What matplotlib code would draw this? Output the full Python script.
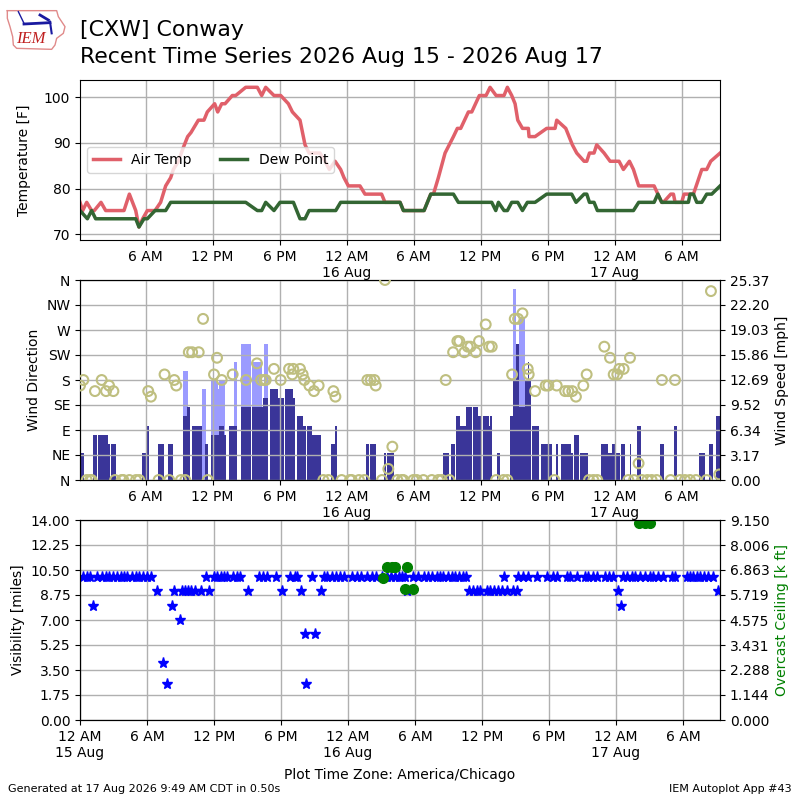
import matplotlib
matplotlib.use("Agg")
import matplotlib.pyplot as plt
import numpy as np

# hours after 15 Aug 00:00 local time
temp_hours = [.13,.37,.73,1.17,1.41,2.01,2.43,4.07,4.55,5.12,5.41,5.74,6.16,6.85,7.35,7.8,8.25,8.49,8.94,9.38,9.77,10.07,10.73,11.23,11.53,12.19,12.46,12.82,13.12,13.77,14.07,14.97,16.01,16.4,16.76,17.5,18.1,18.79,19.15,19.83,20.28,20.64,21.62,22.07,22.46,22.97,23.47,23.77,24.16,25.2,25.65,27.14,27.44,28.79,29.09,30.94,31.54,31.78,32.22,32.82,33.57,33.92,34.22,34.91,35.21,35.89,36.49,36.85,37.39,38.1,38.4,38.79,39.09,39.33,39.75,40.28,40.34,40.88,41.92,42.67,42.82,43.63,44.22,44.61,45.27,45.51,45.75,46.16,46.4,47.06,47.6,48.4,48.79,49.33,49.69,50.16,51.54,52.22,52.37,53.03,53.27,53.42,54.01,54.22,55.06,55.81,56.25,56.61,57.45]
temp_f = [77,75.2,77,75.2,75.2,77,75.2,75.2,78.8,75.2,71.6,73.4,75.2,75.2,77,80.6,82.4,84.2,86,89,91.4,92.3,95,95,96.8,98.6,96.8,98.6,98.6,100.4,100.4,102.2,102.2,100.4,102.2,100.4,100.4,98.6,96.8,95,89.6,87.8,87.8,86,84.2,86,84.2,82.4,80.6,80.6,78.8,78.8,77,77,75.2,75.2,78.8,78.8,82.4,87.8,91.4,93.2,93.2,96.8,96.8,100.4,100.4,102.2,100.4,100.4,102.2,100.4,98.6,95,93.2,93.2,91.4,91.4,93.2,93.2,95,93.2,89.6,87.8,86,86,87.8,87.8,89.6,87.8,86,86,84.2,86,84.2,80.6,80.6,77,77,78.8,78.8,77,77,78.8,78.8,84.2,84.2,86,87.8]
dew_hours = [.13,.79,1.17,1.53,5.12,5.41,5.86,6.16,6.85,7.8,8.25,14.97,16.01,16.4,16.76,17.5,18.04,19.24,19.83,20.28,20.64,23.03,23.47,28.79,29.09,30.94,31.54,33.57,34.01,37,37.36,37.6,38.1,38.4,38.79,39.33,39.75,40.19,40.88,41.92,44.16,44.55,45.27,45.51,45.75,46.16,46.46,49.69,50.16,51.54,51.87,52.22,54.61,54.76,55.06,55.36,55.81,56.25,56.7,57.45]
dew_f = [75.2,73.4,75.2,73.4,73.4,71.6,73.4,73.4,75.2,75.2,77,77,75.2,75.2,77,75.2,77,77,73.4,73.4,75.2,75.2,77,77,75.2,75.2,78.8,78.8,77,77,75.2,77,75.2,75.2,77,77,75.2,77,77,78.8,78.8,77,78.8,78.8,77,77,75.2,75.2,77,77,78.8,77,77,78.8,78.8,77,77,78.8,78.8,80.6]

wind_start = [.13,1.29,1.74,2.64,2.91,5.68,6.01,7.12,8.0,9.35,9.71,10.16,11.32,11.86,12.58,13.03,13.48,14.55,15.53,16.52,17.14,17.86,18.49,19.2,19.56,20.1,20.46,20.91,22.61,22.97,25.74,26.1,27.35,27.62,32.64,33.36,33.81,34.16,34.34,34.7,35.33,35.78,36.22,36.76,36.85,37.48,38.64,38.91,39.18,39.45,39.98,40.25,40.61,41.42,42.76,43.2,44.1,44.36,44.9,46.78,47.41,47.77,48.12,48.57,49.38,50.01,52.07,53.32,55.56,56.45,57.08]
wind_end = [.49,1.65,2.64,2.82,3.35,6.01,6.31,7.65,8.46,9.71,9.98,11.06,11.59,12.58,13.03,13.21,14.19,15.44,16.52,16.97,17.86,18.4,19.2,19.38,20.1,20.37,20.91,21.71,22.97,23.14,26.01,26.64,27.53,28.25,33.18,33.72,34.16,34.34,34.7,35.24,35.78,36.04,36.76,36.85,37.03,37.75,38.91,39.18,39.45,39.98,40.52,40.31,41.24,42.4,42.94,44.1,44.27,44.81,45.62,47.41,47.77,48.12,48.48,48.93,49.47,50.36,52.42,53.59,56.1,56.81,57.44]
wind_kt = [3,5,5,4,4,3,6,4,4,7,8,6,4,5,6,5,6,8,8,9,10,9,10,9,7,6,6,5,4,6,4,4,3,3,3,4,7,6,6,8,8,7,7,6,7,3,7,11,15,8,11,13,6,4,4,4,3,5,3,4,3,4,3,4,4,6,4,6,3,4,7]
gust_start = [9.35,11.06,11.86,12.49,12.58,13.92,14.55,15.53,16.61,38.91,39.45]
gust_end = [9.8,11.42,12.49,12.58,13.12,14.19,15.44,16.43,16.97,39.18,39.98]
gust_kt = [12,10,11,10,11,13,15,13,15,21,18]

dir_hours = [.13,.43,.73,1.03,1.17,1.47,2.07,2.46,2.73,3.12,3.27,3.86,4.01,4.55,5.15,5.44,6.24,6.48,7.17,7.70,8.12,8.57,8.75,9.17,9.56,9.87,10.17,10.76,11.15,11.57,12.13,12.4,12.82,13.8,15,15.98,16.34,16.64,16.76,17.5,18.1,18.85,19.14,19.23,19.83,20.07,20.22,20.67,21.08,21.5,22.82,23,21.92,22.37,23.56,24.31,24.46,25.11,25.59,25.86,26.16,26.49,26.61,27.17,27.44,28.1,27.74,28.55,28.94,29.09,29.98,30.28,30.88,31.63,32.22,32.52,33.21,32.88,33.54,33.92,34.1,34.55,34.85,35.09,35.57,35.86,36.46,36.76,37,37.39,38.04,38.4,38.82,39.06,39.36,39.75,40.22,40.31,40.88,41.83,42.07,42.82,42.61,43.57,43.86,44.21,44.54,45.2,45.5,45.71,46.1,46.45,47.08,47.59,47.92,48.24,48.42,48.81,49.38,49.23,49.74,50.15,50.45,50.93,51.32,51.77,52.24,53.02,53.41,53.86,54.3,54.75,55.29,56.24,56.63,57.38]
dir_deg = [170,180,0,0,0,160,180,160,170,160,0,0,0,0,0,0,160,150,0,190,0,180,170,0,0,230,230,230,290,0,190,220,180,190,180,210,180,180,180,200,180,200,190,200,200,190,180,170,160,170,160,150,0,0,0,0,0,0,0,180,180,180,170,0,360,60,20,0,0,0,0,0,0,0,0,0,0,180,230,250,250,230,240,240,230,250,280,240,240,0,0,0,190,290,290,300,200,190,160,170,170,170,0,160,160,160,150,170,190,0,0,0,240,220,190,190,200,200,220,0,0,30,0,0,0,0,180,0,180,0,0,0,0,0,340,10]

vis_10_hours = [.24,.6,.9,1.55,1.94,2.33,2.63,2.93,3.28,3.64,3.94,4.24,4.63,5.01,5.31,5.61,5.97,6.33,11.28,12,12.3,12.6,12.9,13.19,13.73,14.03,14.33,16.06,16.36,16.78,17.52,18.81,19.25,19.46,20.75,21.85,22.15,22.54,22.9,23.28,23.64,24.33,24.78,25.13,25.67,26.12,26.51,27.01,27.46,27.82,28.21,28.6,28.81,29.11,29.85,30.3,30.81,31.2,31.56,31.94,32.24,32.54,32.99,33.29,33.59,33.97,34.27,34.57,38,39.26,39.7,40.15,40.9,41.79,42.33,42.69,43.59,43.88,44.48,45.23,45.53,45.97,46.27,47.02,47.41,47.76,48.6,48.96,49.41,49.7,50.15,50.6,51.05,51.35,51.79,52.24,52.99,53.29,54.33,54.63,54.93,55.23,55.53,55.88,56.27,56.66]
vis_9_hours = [6.93,8.45,9.1,9.4,9.7,9.91,10.3,10.84,11.55,15.01,18.12,19.82,21.55,29.26,34.87,35.23,35.59,35.82,36.42,36.72,37.08,37.47,37.76,38.27,38.75,39.11,48.21,57.17]
vis_low_hours = [1.19,8.27,48.42,8.99,20.12,21.07,7.46,7.82,20.27]
vis_low_miles = [8,8,8,7,6,6,4,2.5,2.5]

ceil_hours = [27.16,27.46,27.91,28.21,29.32,29.11,29.85,50.09,50.6,51.05]
ceil_kft = [6.5,7,7,7,7,6,6,9,9,9]

hour_ticks = [6,12,18,24,30,36,42,48,54]
hour_labels = ['6 AM','12 PM','6 PM','12 AM\n16 Aug','6 AM','12 PM','6 PM','12 AM\n17 Aug','6 AM']
dir_ticks = [0,45,90,135,180,225,270,315,360]
dir_labels = ['N','NE','E','SE','S','SW','W','NW','N']
speed_ticks = [0,3.17,6.34,9.52,12.69,15.86,19.03,22.20,25.37]
vis_ticks = [0,1.75,3.5,5.25,7,8.75,10.5,12.25,14]
ceil_ticks = [0,1.144,2.288,3.431,4.575,5.719,6.863,8.006,9.150]
KT2MPH = 1.15078

GRID = '#b0b0b0'
fig = plt.figure(figsize=(8, 8), dpi=100)

# temperature
ax1 = fig.add_axes([.1, .7, .8, .2])
ax1.plot(temp_hours, temp_f, color='#e0606a', lw=2.5, label='Air Temp')
ax1.plot(dew_hours, dew_f, color='#336633', lw=2.5, label='Dew Point')
ax1.set_xlim(.13, 57.44)
ax1.set_ylim(68.75, 103.8)
ax1.set_yticks([70, 80, 90, 100])
ax1.set_ylabel('Temperature [F]', labelpad=9)
ax1.set_xticks(hour_ticks, hour_labels)
ax1.grid(True, color=GRID, lw=1.0)
ax1.legend(loc='center left', bbox_to_anchor=(0, .5), ncol=2, fontsize=10)

# wind
ax2 = fig.add_axes([.1, .4, .8, .25])
ax2b = ax2.twinx()
ax2.set_zorder(ax2b.get_zorder() + 1)
ax2.patch.set_visible(False)
ax2b.patch.set_visible(True)
gs, ge = np.array(gust_start), np.array(gust_end)
ws, we = np.array(wind_start), np.array(wind_end)
ax2b.bar(gs, np.array(gust_kt) * KT2MPH, width=ge - gs, align='edge', color='#9b9bff', lw=0)
ax2b.bar(ws, np.array(wind_kt) * KT2MPH, width=we - ws, align='edge', color='#3a3599', lw=0)
ax2b.set_ylim(0, 25.37)
ax2b.set_yticks(speed_ticks, [f'{v:.2f}' for v in speed_ticks])
ax2b.set_ylabel('Wind Speed [mph]')
ax2.scatter(dir_hours, dir_deg, s=50, facecolors='none', edgecolors='#bfbf80', linewidths=1.5, zorder=3)
ax2.set_ylim(0, 360)
ax2.set_yticks(dir_ticks, dir_labels)
ax2.set_ylabel('Wind Direction')
ax2.set_xlim(.13, 57.44)
ax2.set_xticks(hour_ticks, hour_labels)
ax2.grid(True, color=GRID, lw=1.0)

# visibility and ceiling
ax3 = fig.add_axes([.1, .1, .8, .25])
ax3b = ax3.twinx()
ax3.plot(vis_10_hours, [10] * len(vis_10_hours), '*', color='blue', ms=8, ls='none')
ax3.plot(vis_9_hours, [9] * len(vis_9_hours), '*', color='blue', ms=8, ls='none')
ax3.plot(vis_low_hours, vis_low_miles, '*', color='blue', ms=8, ls='none')
ax3b.plot(ceil_hours, ceil_kft, 'o', color='green', ms=7, ls='none')
ax3.set_xlim(0, 57.31)
ax3.set_ylim(0, 14)
ax3.set_yticks(vis_ticks, [f'{v:.2f}' for v in vis_ticks])
ax3.set_ylabel('Visibility [miles]')
ax3b.set_ylim(0, 9.15)
ax3b.set_yticks(ceil_ticks, [f'{v:.3f}' for v in ceil_ticks])
ax3b.set_ylabel('Overcast Ceiling [k ft]', color='green')
ax3.set_xticks([0] + hour_ticks, ['12 AM\n15 Aug'] + hour_labels)
ax3.grid(True, color=GRID, lw=1.0)

# heading and footer
fig.text(.1, 1 - 30 / 800, '[CXW] Conway', fontsize=15.8, va='center', ha='left')
fig.text(.1, 1 - 57 / 800, 'Recent Time Series 2026 Aug 15 - 2026 Aug 17', fontsize=15.8, va='center', ha='left')
fig.text(.5, 1 - 775 / 800, 'Plot Time Zone: America/Chicago', fontsize=10, va='center', ha='center')
fig.text(.01, .0075, 'Generated at 17 Aug 2026 9:49 AM CDT in 0.50s', fontsize=8, va='bottom')
fig.text(.99, .0075, 'IEM Autoplot App #43', fontsize=8, va='bottom', ha='right')

# logo
logo = fig.add_axes([0, 1 - 60 / 800, 80 / 800, 60 / 800])
logo.axis('off')
logo.set_xlim(0, 240)
logo.set_ylim(180, 0)
logo.plot([22,170,175,195,190,170,165,155,50,40,38,30,22,22], [32,32,50,80,100,115,135,148,145,135,110,80,55,32], color='#e08a8a', lw=1)
logo.plot([72,150], [72,68], color='#1a1aa0', lw=2)
logo.plot([55,72], [35,70], color='#1a1aa0', lw=1)
logo.plot([120,145], [45,60], color='#1a1aa0', lw=2)
logo.plot([150,155], [65,100], color='#1a1aa0', lw=1.5)
logo.text(92, 118, 'IEM', color='#c02020', fontsize=12, family='Liberation Serif', style='italic', ha='center', va='center')

fig.savefig('out.png', dpi=100)
